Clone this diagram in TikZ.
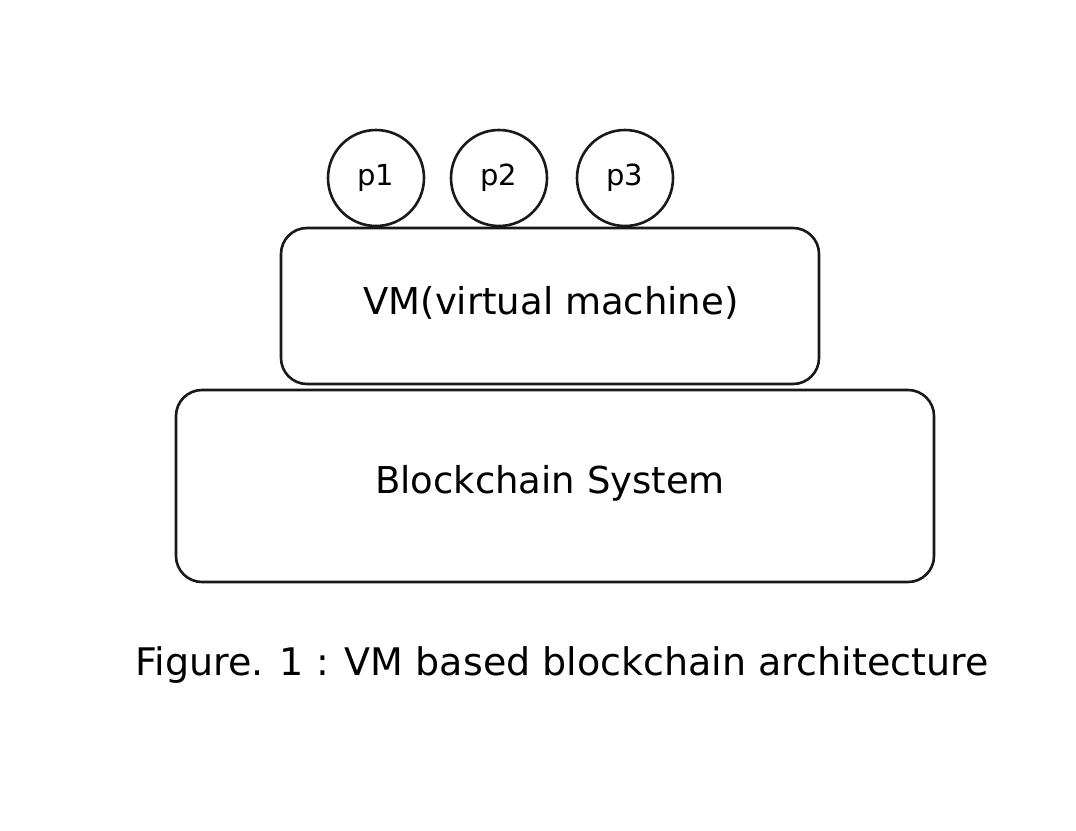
\documentclass[tikz,border=0pt]{standalone}
\usepackage{fontspec}
\setmainfont{DejaVu Sans}
\begin{document}
\begin{tikzpicture}[x=1pt,y=-1pt,
  shape line/.style={draw=black!90, line width=2.6pt},
  proc/.style={shape line, circle, minimum size=96pt, inner sep=0pt, font=\fontsize{29}{34}\selectfont},
  layer/.style={shape line, rounded corners=26pt},
  lbl/.style={font=\fontsize{37}{42}\selectfont, inner sep=0pt}]
\useasboundingbox (0,0) rectangle (1076,830);
\fill[white] (0,0) rectangle (1076,830);
\node[proc] (p1) at (376,178) {p1};
\node[proc] (p2) at (499,178) {p2};
\node[proc] (p3) at (625,178) {p3};
\draw[layer] (281,228) rectangle (819,384);
\node[lbl] (vm) at (551,303) {VM(virtual machine)};
\draw[layer] (176,390) rectangle (934,582);
\node[lbl] (bc) at (550,483) {Blockchain System};
\node[font=\fontsize{38}{44}\selectfont, inner sep=0pt] (cap) at (562,665) {Figure. 1 : VM based blockchain architecture};
\end{tikzpicture}
\end{document}
